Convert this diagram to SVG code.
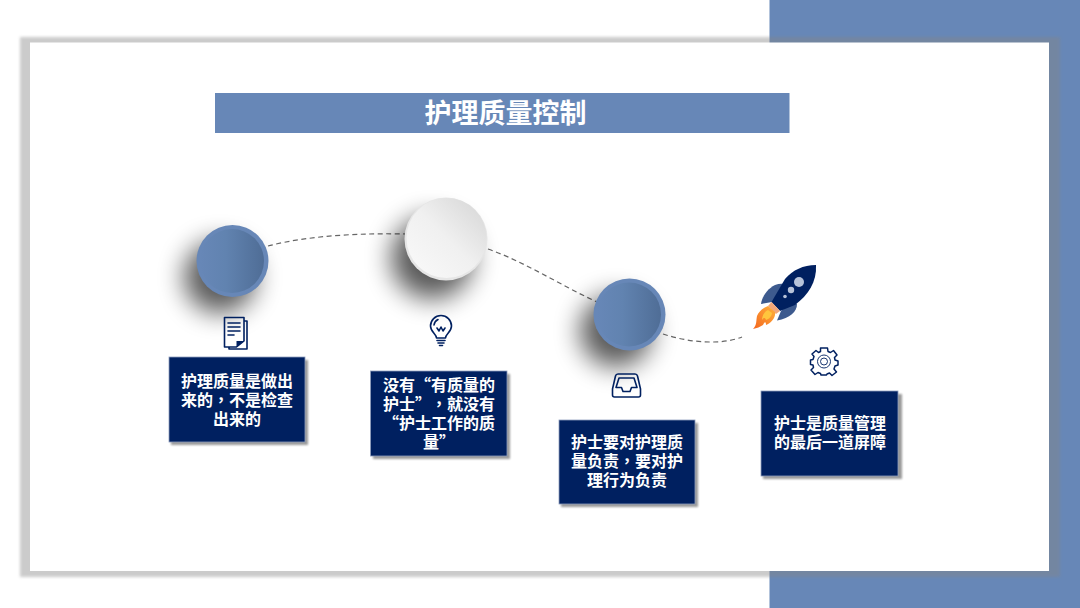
<svg xmlns="http://www.w3.org/2000/svg" width="1080" height="608" viewBox="0 0 1080 608">
<style>
.t{font-family:"Liberation Sans","Noto Sans CJK SC",sans-serif;font-weight:700;fill:#fff;text-anchor:middle;text-spacing-trim:space-all}
.b{font-size:16px}
.c{font-family:"Noto Sans CJK TC",sans-serif}
.q{font-family:"Noto Sans CJK SC",sans-serif}
.box{fill:#002060;stroke:#8f9fbe;stroke-width:.8}
.ic{fill:none;stroke:#002060;stroke-width:1.6;stroke-linejoin:round;stroke-linecap:round}
.dash{fill:none;stroke:#666;stroke-width:1.2;stroke-dasharray:5 3.5}
</style>
<defs>
<filter id="s1" x="-10%" y="-10%" width="120%" height="120%"><feGaussianBlur stdDeviation="1.5"/></filter>
<filter id="s2" x="-80%" y="-80%" width="260%" height="260%"><feGaussianBlur stdDeviation="13"/></filter>
<filter id="s3" x="-10%" y="-10%" width="120%" height="120%"><feGaussianBlur stdDeviation="1"/></filter>
<linearGradient id="bl" x1="0" y1="0" x2="1" y2="0"><stop offset="0" stop-color="#6787b7"/><stop offset=".4" stop-color="#6183b0"/><stop offset="1" stop-color="#4f6d96"/></linearGradient>
<linearGradient id="wh" x1="0" y1="1" x2="1" y2="0"><stop offset="0" stop-color="#fafafa"/><stop offset=".5" stop-color="#f0f0f0"/><stop offset="1" stop-color="#d4d4d4"/></linearGradient>
<linearGradient id="fl" x1="1" y1="0" x2="0" y2="1"><stop offset="0" stop-color="#ffb13b"/><stop offset="1" stop-color="#f4661f"/></linearGradient>
</defs>
<rect width="1080" height="608" fill="#fff"/>
<rect x="769.500" y="0" width="310.500" height="608" fill="#6787b7"/>
<g id="panel">
<rect x="20" y="37" width="1040" height="540" fill="#858585" opacity=".42" filter="url(#s1)"/>
<rect x="30" y="42.500" width="1019" height="528.500" fill="#fff"/>
</g>
<g id="title">
<rect x="215" y="93" width="574.500" height="40" fill="#6787b7"/>
<text class="t" x="505.500" y="123" font-size="27">护理质量控制</text>
</g>
<g id="connectors">
<path class="dash" d="M268 246C310 235 365 233 405 234"/>
<path class="dash" d="M488 249C525 262 560 285 597 302"/>
<path class="dash" d="M663 334C690 343 722 345 742 337"/>
</g>
<g id="node1">
<circle cx="220" cy="277" r="36" fill="#000" opacity=".65" filter="url(#s2)"/>
<circle cx="232.500" cy="261" r="36" fill="#6787b7"/>
<circle cx="232" cy="261" r="32" fill="url(#bl)"/>
<path class="ic" d="M224.500 317.500H244V341L236.500 347H224.500ZM244 321H247V349H229V347"/>
<path class="ic" d="M228 323H240M228 327H240M228 331H240M228 335H234"/>
<path d="M244 341L236.500 347V341Z" fill="#002060"/>
<rect x="171" y="360" width="137" height="85" fill="#000" opacity=".4" filter="url(#s3)"/>
<rect class="box" x="169" y="357" width="136" height="85"/>
<text class="t b" x="237" y="387">护理质量是做出</text>
<text class="t b" x="237" y="406">来的<tspan class="c">，</tspan>不是检查</text>
<text class="t b" x="237" y="425">出来的</text>
</g>
<g id="node2">
<circle cx="432" cy="258" r="41" fill="#000" opacity=".65" filter="url(#s2)"/>
<circle cx="446" cy="239" r="41.500" fill="#e6e6e6"/>
<circle cx="446.500" cy="238" r="40" fill="url(#wh)"/>
<path class="ic" d="M436.500 338C436.500 334 430.500 332 430.500 326A10.500 10.500 0 0 1 451.500 326C451.500 332 445.500 334 445.500 338Z"/>
<path class="ic" d="M437 328L439 331L441 327L443 331L445 328M434 325A7 7 0 0 1 438 319.500"/>
<path class="ic" d="M437 340.500H445M438 343H444M439.500 345.500H442.500"/>
<rect x="373" y="374" width="137" height="85" fill="#000" opacity=".4" filter="url(#s3)"/>
<rect class="box" x="370.500" y="371" width="136.500" height="85"/>
<text class="t b" x="439" y="391">没有<tspan class="q">“</tspan>有质量的</text>
<text class="t b" x="439" y="410">护士<tspan class="q">”</tspan><tspan class="c">，</tspan>就没有</text>
<text class="t b" x="439" y="429"><tspan class="q">“</tspan>护士工作的质</text>
<text class="t b" x="439" y="448">量<tspan class="q">”</tspan></text>
</g>
<g id="node3">
<circle cx="616" cy="331" r="36" fill="#000" opacity=".65" filter="url(#s2)"/>
<circle cx="629.500" cy="314.500" r="36" fill="#6787b7"/>
<circle cx="629" cy="314.500" r="32" fill="url(#bl)"/>
<path class="ic" d="M618 374H635Q637 374 637.500 376L640.500 389V395Q640.500 397 638.500 397H614.500Q612.500 397 612.500 395V389L615.500 376Q616 374 618 374Z"/>
<path class="ic" d="M616 387.500L619 378H634L637 387.500H631.500L630 391.500H623L621.500 387.500Z"/>
<rect x="561" y="423" width="137" height="84" fill="#000" opacity=".4" filter="url(#s3)"/>
<rect class="box" x="559" y="420" width="136" height="84"/>
<text class="t b" x="627" y="448">护士要对护理质</text>
<text class="t b" x="627" y="467">量负责<tspan class="c">，</tspan>要对护</text>
<text class="t b" x="627" y="486">理行为负责</text>
</g>
<g id="node4">
<g id="rocket">
<path d="M775 285C767 289 762 297 761 304L772 302L785 284Q780 283 775 285Z" fill="#3d5a8e"/>
<path d="M797 304C797 312 790 318 777 320.500L781 311L792 302Z" fill="#3d5a8e"/>
<path d="M816 265C803 265 793 270 785 279L771.500 302L780 311L795 305C808 295 817 282 816 265Z" fill="#002060"/>
<circle cx="799" cy="282" r="5" fill="#b7c3d9"/>
<circle cx="791" cy="290" r="3.200" fill="#b7c3d9"/>
<circle cx="785" cy="296.500" r="1.800" fill="#b7c3d9"/>
<path d="M771.500 302L780 311L776 314L768 306Z" fill="#f2a679"/>
<path d="M768 306L775 312C776 318 771 323 766 325C766 322 765 321 763 325C760 327 757 328 753 329C757 325 756 321 757 316C759 311 763 308 768 306Z" fill="url(#fl)"/>
<path d="M768 310L772 313C772 316 769 319 766 320C765 317 763 318 762 320C762 316 764 312 768 310Z" fill="#ffc53d"/>
</g>
<path class="ic" style="stroke-width:1.500" d="M820.500 348H827.500L828 351.500L830.500 352.500L833.500 350.500L837 355L834.500 357.500L835 360L838 361V365L835 366L834 369L836.500 372L832 375.500L829.500 373L827 374L826.500 375H821L820.500 373.500L818 372.500L815 374.500L811 370L813.500 367.500L813 365L810.500 364.500V360L813 359.500L814 356.500L812 354L816 350.500L818.500 352.500L820.500 351.500Z"/>
<circle cx="824" cy="361.500" r="6.500" fill="none" stroke="#002060" stroke-width=".9"/>
<circle cx="824" cy="361.500" r="3.500" fill="none" stroke="#002060" stroke-width=".9"/>
<rect x="763" y="394" width="139" height="85" fill="#000" opacity=".4" filter="url(#s3)"/>
<rect class="box" x="761" y="391" width="137" height="85"/>
<text class="t b" x="830" y="429">护士是质量管理</text>
<text class="t b" x="830" y="448">的最后一道屏障</text>
</g>
</svg>
